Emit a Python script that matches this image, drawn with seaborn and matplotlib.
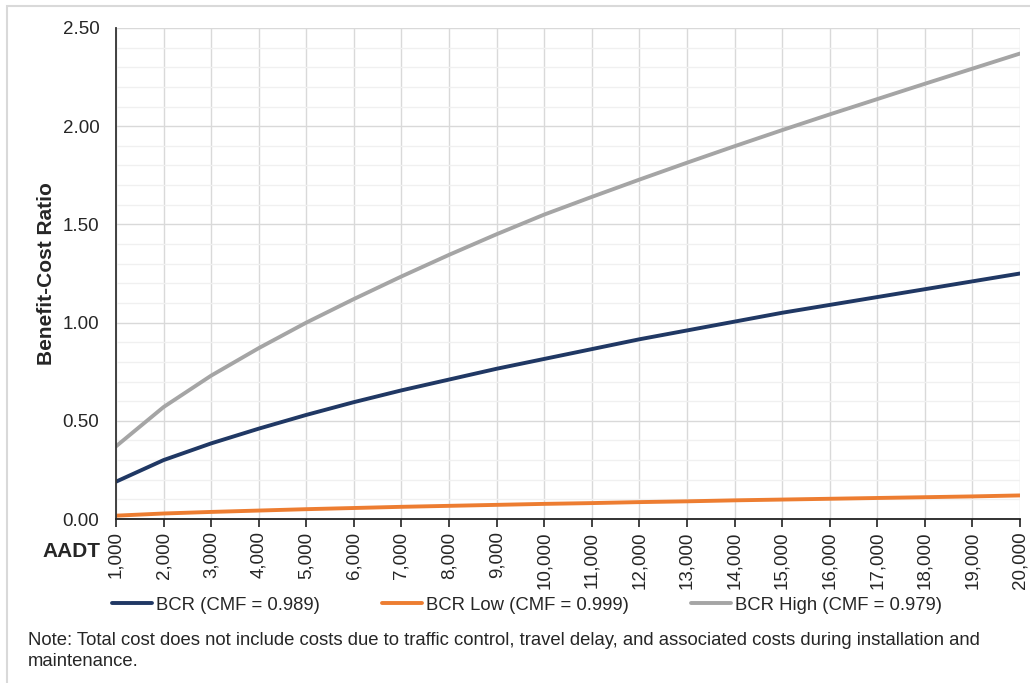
import matplotlib
matplotlib.use('Agg')
import matplotlib.pyplot as plt
import matplotlib.ticker as mticker
from matplotlib.patches import Rectangle
import seaborn as sns
import pandas as pd

# AADT values on the x axis
aadt = [1000, 2000, 3000, 4000, 5000, 6000, 7000, 8000, 9000, 10000,
        11000, 12000, 13000, 14000, 15000, 16000, 17000, 18000, 19000, 20000]

# benefit-cost ratios
bcr = [0.19, 0.30, 0.385, 0.46, 0.53, 0.595, 0.655, 0.71, 0.765, 0.815,
       0.865, 0.915, 0.96, 1.005, 1.05, 1.09, 1.13, 1.17, 1.21, 1.25]
bcr_low = [0.017, 0.028, 0.036, 0.043, 0.050, 0.056, 0.062, 0.067, 0.072, 0.077,
           0.081, 0.086, 0.090, 0.095, 0.099, 0.103, 0.107, 0.111, 0.115, 0.12]
bcr_high = [0.37, 0.57, 0.73, 0.87, 1.00, 1.12, 1.235, 1.345, 1.45, 1.55,
            1.64, 1.728, 1.814, 1.898, 1.98, 2.06, 2.138, 2.216, 2.293, 2.37]

series_names = ['BCR (CMF = 0.989)', 'BCR Low (CMF = 0.999)', 'BCR High (CMF = 0.979)']
series_colors = ['#203864', '#ED7D31', '#A5A5A5']

note = ('Note: Total cost does not include costs due to traffic control, travel delay, '
        'and associated costs during installation and\nmaintenance.')

# long format table for seaborn
df = pd.DataFrame({
    'AADT': aadt * 3,
    'BCR': bcr + bcr_low + bcr_high,
    'series': [series_names[0]] * len(aadt) + [series_names[1]] * len(aadt)
              + [series_names[2]] * len(aadt),
})

sns.set_theme(style='white')
plt.rcParams['font.family'] = ['Liberation Sans', 'DejaVu Sans']

fig = plt.figure(figsize=(10.3, 6.83), dpi=100)
ax = fig.add_axes([116 / 1030, 1 - 519 / 683, (1020 - 116) / 1030, (519 - 28) / 683])

sns.lineplot(data=df, x='AADT', y='BCR', hue='series', hue_order=series_names,
             palette=series_colors, linewidth=2.8, ax=ax, legend=True)

ax.set_xlim(1000, 20000)
ax.set_ylim(0, 2.5)
ax.xaxis.set_major_locator(mticker.MultipleLocator(1000))
ax.xaxis.set_major_formatter(mticker.FuncFormatter(lambda v, p: f'{int(v):,}'))
ax.yaxis.set_major_locator(mticker.MultipleLocator(0.5))
ax.yaxis.set_minor_locator(mticker.MultipleLocator(0.1))
ax.yaxis.set_major_formatter(mticker.FormatStrFormatter('%.2f'))

ax.grid(which='major', axis='both', color='#D9D9D9', linewidth=1.0)
ax.grid(which='minor', axis='y', color='#F0F0F0', linewidth=1.0)
ax.set_axisbelow(True)

for s in ['top', 'right']:
    ax.spines[s].set_visible(False)
ax.spines['left'].set_color('#333333')
ax.spines['left'].set_linewidth(1.3)
ax.spines['bottom'].set_color('#222222')
ax.spines['bottom'].set_linewidth(1.3)

ax.tick_params(axis='x', which='major', direction='out', length=6, width=1.2,
               color='#222222', bottom=True, labelsize=13.5, pad=3, labelrotation=90)
ax.tick_params(axis='y', which='both', length=0, labelsize=13.5, pad=12)

ax.set_xlabel('')
ax.set_ylabel('Benefit-Cost Ratio', fontsize=15, fontweight='bold', labelpad=5)
ax.text(-0.017, -0.066, 'AADT', transform=ax.transAxes, ha='right', va='center',
        fontsize=15, fontweight='bold')

handles, labels = ax.get_legend_handles_labels()
ax.get_legend().remove()
fig.legend(handles, labels, loc='center left', bbox_to_anchor=(95 / 1030, 1 - 605 / 683),
           ncol=3, frameon=False, fontsize=13.3, handlelength=2.2, handletextpad=0.2,
           columnspacing=3.35)

fig.text(28 / 1030, 1 - 651 / 683, note, ha='left', va='center', fontsize=13.3,
         linespacing=1.25)

# light frame round the whole chart
fig.patches.append(Rectangle((7 / 1030, -0.05), 1.2, 1 - 6 / 683 + 0.05,
                             transform=fig.transFigure, fill=False,
                             edgecolor='#D9D9D9', linewidth=1.5))

fig.savefig('out.png', dpi=100)
